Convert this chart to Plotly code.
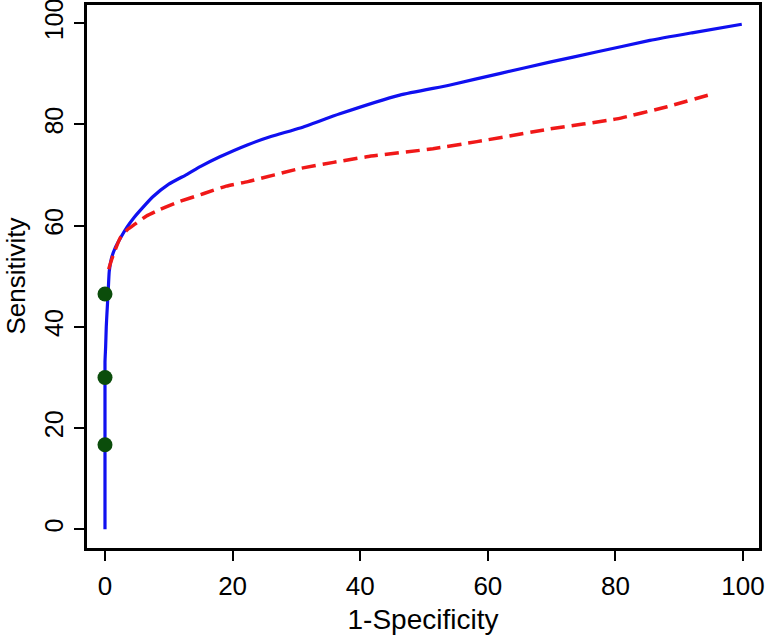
import plotly.graph_objects as go

# Blue solid ROC curve
blue_x = [0, 0, 0.1, 0.2, 0.3, 0.5, 0.67, 1.0, 1.6, 2.4, 3.4, 4.5, 5.8, 7.5, 10, 12.8,
          15, 18, 22.4, 26, 30.6, 36.8, 46.2, 54.1, 62, 69.7, 77, 85.4, 92, 99.8]
blue_y = [0, 33, 36, 40, 42.5, 47, 51, 53.5, 55.6, 57.5, 59.6, 61.5, 63.4, 65.7, 68.2, 70.1,
          71.7, 73.6, 76.0, 77.6, 79.3, 82.1, 85.8, 87.8, 90.1, 92.3, 94.3, 96.6, 98.1, 99.8]

# Red dashed ROC curve
red_x = [0.58, 1.1, 2.35, 3.5, 4.7, 6.5, 8.6, 11.3, 15.4, 19, 22.4, 30.6, 41, 51.4, 58.3,
         69.7, 80.2, 88.1, 95.1]
red_y = [51.4, 53.5, 57.5, 59.2, 60.3, 61.9, 63.2, 64.6, 66.3, 67.8, 68.7, 71.3, 73.6, 75.2,
         76.6, 79.1, 81.1, 83.5, 86.0]

# Green points
pt_x = [0, 0, 0]
pt_y = [16.7, 30, 46.5]

tick_vals = [0, 20, 40, 60, 80, 100]
tick_text = ["0", "20", "40", "60", "80", "100"]

fig = go.Figure()
fig.add_trace(go.Scatter(x=blue_x, y=blue_y, mode="lines",
                         line=dict(color="#1010f0", width=3.2, shape="spline", smoothing=0.5),
                         showlegend=False))
fig.add_trace(go.Scatter(x=red_x, y=red_y, mode="lines",
                         line=dict(color="#f01818", width=3.5, dash="14px,7px",
                                   shape="spline", smoothing=0.5),
                         showlegend=False))
fig.add_trace(go.Scatter(x=pt_x, y=pt_y, mode="markers",
                         marker=dict(color="#0b4d0b", size=15), showlegend=False))

font = "Liberation Sans, Arial, sans-serif"
fig.update_layout(
    width=767, height=638,
    margin=dict(l=87, r=8, t=5, b=90),
    paper_bgcolor="white", plot_bgcolor="white",
    font=dict(family=font, color="black"),
    annotations=[dict(text="Sensitivity", xref="paper", yref="paper",
                      x=-0.107, y=0.5, xanchor="center", yanchor="middle",
                      textangle=-90, showarrow=False, font=dict(size=26))],
)
fig.update_xaxes(
    range=[-2.82, 102.5], tickvals=tick_vals, ticktext=tick_text,
    showgrid=False, zeroline=False, showline=True, linecolor="black", linewidth=2.5,
    mirror=True, ticks="outside", ticklen=10, tickwidth=2, tickcolor="black",
    tickfont=dict(size=26), ticklabelstandoff=3, ticklabeloverflow="allow",
    automargin=False,
    title=dict(text="1-Specificity", font=dict(size=28), standoff=10),
)
fig.update_yaxes(
    range=[-3.7, 103.6], tickvals=tick_vals, ticktext=tick_text,
    showgrid=False, zeroline=False, showline=True, linecolor="black", linewidth=2.5,
    mirror=True, ticks="outside", ticklen=10, tickwidth=2, tickcolor="black",
    tickfont=dict(size=25), tickangle=-90, ticklabelstandoff=1, ticklabeloverflow="allow",
    automargin=False,
)
fig.write_html("out.html", config={"displayModeBar": False},
               post_script="document.body.style.margin='0';")
